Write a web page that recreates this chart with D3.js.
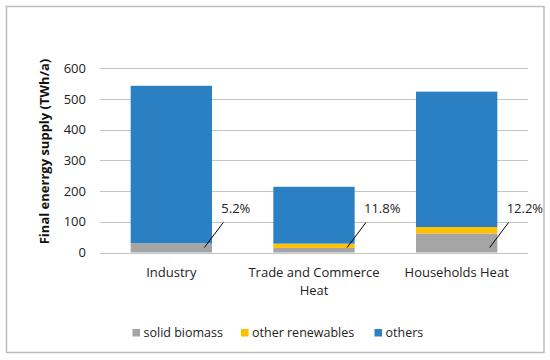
<!DOCTYPE html>
<html><head><meta charset="utf-8">
<script src="https://cdn.jsdelivr.net/npm/d3@7"></script>
<style>body{margin:0;background:#fff}svg{display:block}text{font-family:"Open Sans",Carlito,Calibri,sans-serif}</style>
</head><body><svg id="c" width="550" height="360"></svg>
<script>
const categories = ["Industry", "Trade and Commerce\nHeat", "Households Heat"];
const seriesNames = ["solid biomass", "other renewables", "others"];
const solidBiomass = [30, 15, 62];
const otherRenewables = [0, 14, 21];
const others = [513, 185, 441];
const shareLabels = ["5.2%", "11.8%", "12.2%"];
const yTicks = [0, 100, 200, 300, 400, 500, 600];
const colors = ["#a5a5a5", "#ffc000", "#2a80c3"];

const svg = d3.select("#c");
svg.append("rect").attr("x",6.5).attr("y",6.5).attr("width",537.5).attr("height",346)
  .attr("fill","#fff").attr("stroke","#bdbdbd").attr("stroke-width",1.5);

const m = {l:100, r:528, t:68.3, b:252.5};
const x = d3.scaleBand().domain(categories).range([m.l, m.r]).paddingInner(0.43).paddingOuter(0.215);
const y = d3.scaleLinear().domain([0,600]).range([m.b, m.t]);

const data = categories.map((c,i)=>({cat:c, "solid biomass":solidBiomass[i], "other renewables":otherRenewables[i], "others":others[i]}));
const stack = d3.stack().keys(seriesNames)(data);

// gridlines
svg.append("g").selectAll("line").data(yTicks).join("line")
  .attr("x1",m.l).attr("x2",m.r).attr("y1",d=>Math.round(y(d))+0.5).attr("y2",d=>Math.round(y(d))+0.5)
  .attr("stroke","#c4c4c4").attr("stroke-width",1.2);

// y tick labels
svg.append("g").selectAll("text").data(yTicks).join("text")
  .attr("x",86).attr("y",d=>y(d)).attr("dy","0.35em").attr("text-anchor","end")
  .attr("font-size",13).attr("fill","#222").text(d=>d);

// bars
svg.append("g").selectAll("g").data(stack).join("g").attr("fill",(d,i)=>colors[i])
  .selectAll("rect").data(d=>d).join("rect")
  .attr("x",d=>x(d.data.cat)).attr("width",x.bandwidth())
  .attr("y",d=>y(d[1])).attr("height",d=>y(d[0])-y(d[1]));

// redraw zero line on top
svg.append("line").attr("x1",m.l).attr("x2",m.r).attr("y1",Math.round(y(0))+0.5).attr("y2",Math.round(y(0))+0.5)
  .attr("stroke","#c4c4c4").attr("stroke-width",1.2);

// share labels with leader lines
const lab = svg.append("g");
categories.forEach((c,i)=>{
  const cx = x(c) + x.bandwidth()/2;
  const x0 = cx + 33, y0 = y(16);
  const x1 = x0 + 19, y1 = y(98);
  lab.append("line").attr("x1",x0).attr("y1",y0).attr("x2",x1).attr("y2",y1).attr("stroke","#000").attr("stroke-width",1);
  lab.append("text").attr("x",x1-2).attr("y",y(142)).attr("dy","0.35em").attr("font-size",13).attr("fill","#222").text(shareLabels[i]);
});

// x labels
svg.append("g").selectAll("text").data(categories).join("text")
  .attr("x",d=>x(d)+x.bandwidth()/2).attr("y",272).attr("text-anchor","middle")
  .attr("font-size",13).attr("fill","#222")
  .each(function(d){
    const t = d3.select(this);
    d.split("\n").forEach((s,k)=>t.append("tspan").attr("x",x(d)+x.bandwidth()/2).attr("dy",k===0?"0.35em":"1.4em").text(s));
  });

// y title
svg.append("text").attr("transform","translate(44,151.5) rotate(-90)").attr("text-anchor","middle").attr("dy","0.35em")
  .attr("font-size",13).attr("font-weight","bold").attr("fill","#111").text("Final enerrgy supply (TWh/a)");

// legend
const legX = [132.5, 241, 374.5];
const leg = svg.append("g");
seriesNames.forEach((s,i)=>{
  leg.append("rect").attr("x",legX[i]).attr("y",329).attr("width",7.5).attr("height",7.5).attr("fill",colors[i]);
  leg.append("text").attr("x",legX[i]+11).attr("y",333).attr("dy","0.35em").attr("font-size",12.5).attr("fill","#222").text(s);
});
</script></body></html>
